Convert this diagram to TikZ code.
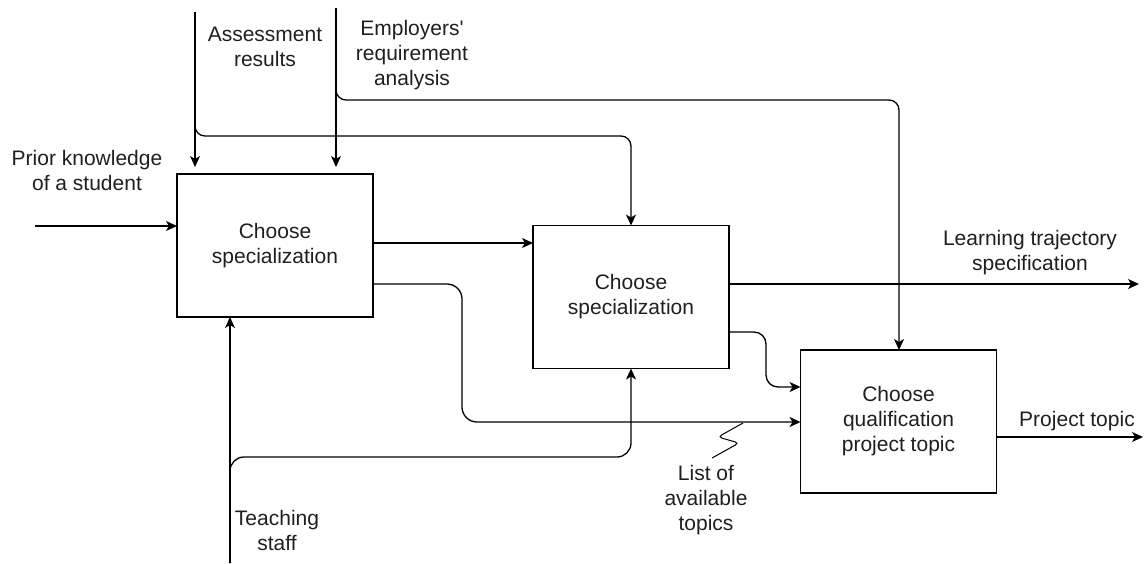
\documentclass[tikz,border=0pt]{standalone}
\usepackage{fontspec}
\newfontfamily\lab{Liberation Sans}
\usetikzlibrary{arrows.meta}
\begin{document}
\begin{tikzpicture}[x=1pt,y=-1pt,
  every node/.style={inner sep=0pt,outer sep=0pt},
  txt/.style={font=\lab\fontsize{21}{25}\selectfont,align=center,text=black!88},
  activity/.style={draw,line width=1.3pt,minimum width=196pt,minimum height=143pt,txt},
  flow/.style={line width=1.3pt,-{Stealth[length=11pt,width=10pt,inset=3pt]}},
  bendflow/.style={flow,rounded corners=12pt}]
\useasboundingbox (0,0) rectangle (1145,563);

% activities
\node[activity] (b1) at (275,245.5) {Choose\\specialization};
\node[activity] (b2) at (631,297)   {Choose\\specialization};
\node[activity] (b3) at (898.5,421.5) {Choose\\qualification\\project topic};

% labels
\node[txt] (tpk)  at (87,170)   {Prior knowledge\\of a student};
\node[txt] (tas)  at (265,47)   {Assessment\\results};
\node[txt] (tem)  at (412,55)   {Employers'\\requirement\\analysis};
\node[txt] (tlt)  at (1030,253) {Learning trajectory\\specification};
\node[txt] (tpt)  at (1077,421) {Project topic};
\node[txt] (tli)  at (706,500)  {List of\\available\\topics};
\node[txt] (tts)  at (277,530)  {Teaching\\staff};

% free ends and junctions
\coordinate (pk)  at (35,226);
\coordinate (as)  at (195,12);
\coordinate (asj) at (195,136);
\coordinate (em)  at (336,8);
\coordinate (emj) at (336,100);
\coordinate (emk) at (899,100);
\coordinate (ts)  at (230,563);
\coordinate (tsj) at (230,457);
\coordinate (lt)  at (1139,284);
\coordinate (pt)  at (1143,437);
\coordinate (r1)  at (462,284);
\coordinate (r2)  at (766,332);

% inputs
\draw[flow] (pk) -- (pk -| b1.west);
\draw[flow,shorten >=7pt] (as) -- (as |- b1.north);
\draw[bendflow,rounded corners=10pt] (as) -- (asj) -- (asj -| b2.north) -- (b2.north);
\draw[flow,shorten >=7pt] (em) -- (em |- b1.north);
\draw[bendflow,rounded corners=10pt] (em) -- (emj) -- (emk) -- (emk |- b3.north);

% mechanisms
\draw[flow] (ts) -- (ts |- b1.south);
\draw[bendflow,rounded corners=14pt] (ts) -- (tsj) -- (tsj -| b2.south) -- (b2.south);

% flows between activities
\draw[flow] (b1.east |- 0,243) -- (b2.west |- 0,243);
\draw[bendflow,rounded corners=15pt] (b1.east |- r1) -- (r1) -- (r1 |- 0,422) -- (b3.west |- 0,422);
\draw[bendflow,rounded corners=12pt] (b2.east |- r2) -- (r2) -- (r2 |- 0,387) -- (b3.west |- 0,387);

% outputs
\draw[flow] (b2.east |- lt) -- (lt);
\draw[flow] (b3.east |- pt) -- (pt);

% squiggle tying the label to its arrow
\draw[line width=1pt,rounded corners=4pt] (743,423) -- (718,437) -- (739,443) -- (712,458);
\end{tikzpicture}
\end{document}
